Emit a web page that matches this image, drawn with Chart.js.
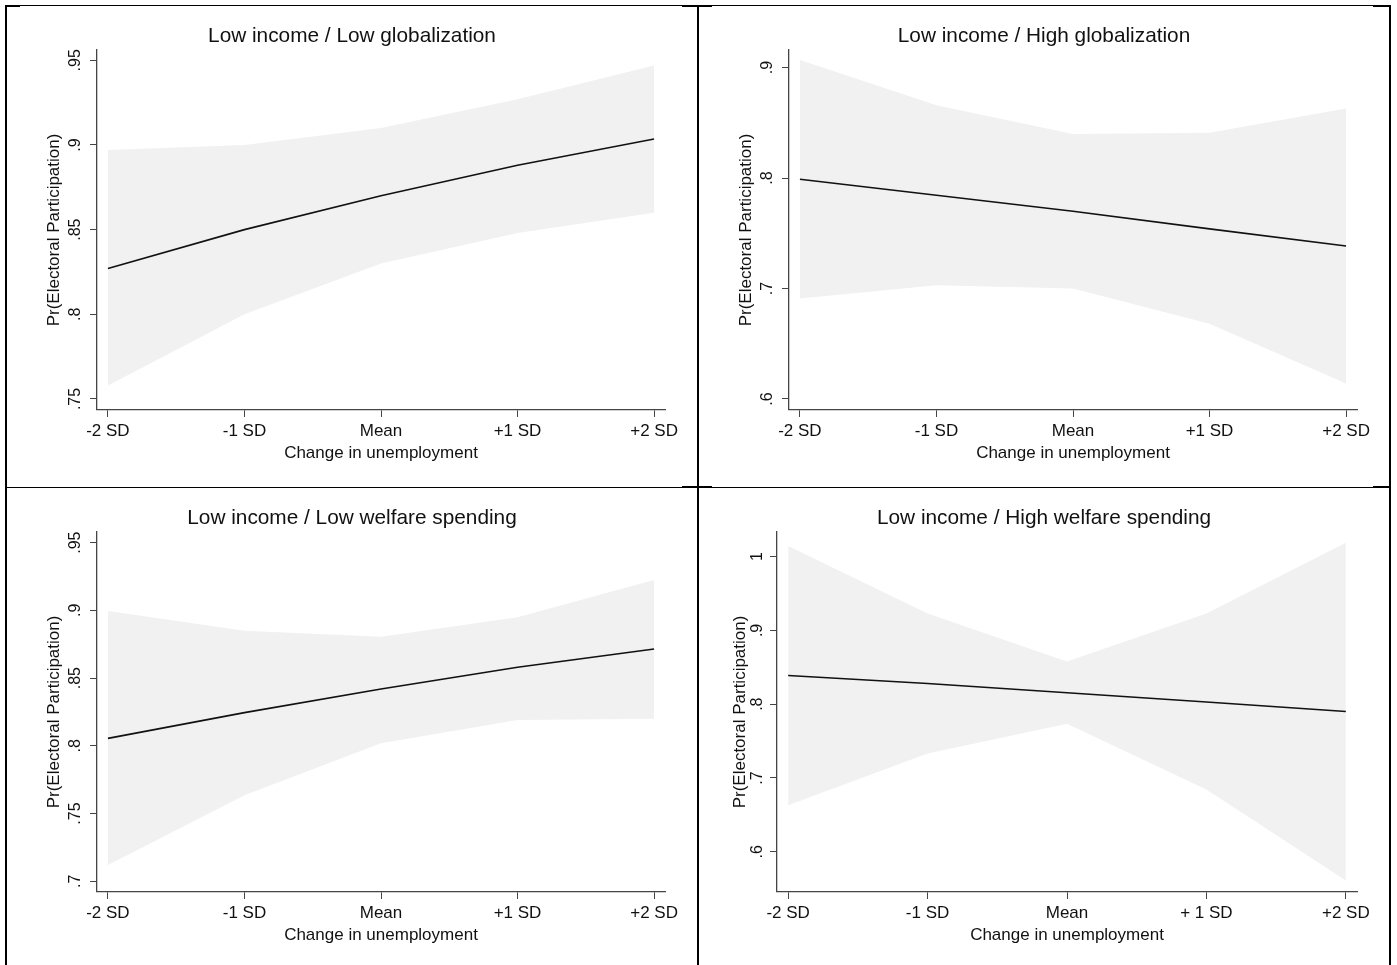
<!DOCTYPE html>
<html>
<head>
<meta charset="utf-8">
<script src="https://cdn.jsdelivr.net/npm/chart.js@4.4.1/dist/chart.umd.min.js"></script>
<style>
  html, body { margin: 0; padding: 0; background: #fff; }
  body { width: 1397px; height: 965px; overflow: hidden; position: relative; }
  canvas { position: absolute; }
  .rule { position: absolute; background: #000; }
</style>
</head>
<body>
<canvas id="p1" width="690" height="481" style="left:7px;top:6px"></canvas>
<canvas id="p2" width="690" height="481" style="left:699px;top:6px"></canvas>
<canvas id="p3" width="690" height="481" style="left:7px;top:488px"></canvas>
<canvas id="p4" width="690" height="481" style="left:699px;top:488px"></canvas>

<!-- table frame around the four panels -->
<div class="rule" style="left:5px;top:5px;width:2px;height:960px"></div>
<div class="rule" style="left:697px;top:5px;width:2px;height:960px"></div>
<div class="rule" style="left:1389px;top:5px;width:2px;height:960px"></div>
<div class="rule" style="left:5px;top:5px;width:1386px;height:1px"></div>
<div class="rule" style="left:5px;top:5px;width:15px;height:2px"></div>
<div class="rule" style="left:682px;top:5px;width:30px;height:2px"></div>
<div class="rule" style="left:1373px;top:5px;width:18px;height:2px"></div>
<div class="rule" style="left:5px;top:487px;width:1386px;height:1px"></div>
<div class="rule" style="left:682px;top:486px;width:30px;height:2px"></div>
<div class="rule" style="left:1373px;top:486px;width:18px;height:2px"></div>

<script>
// Horizontal axis: change in unemployment, in standard deviations
const xPositions = [-2, -1, 0, 1, 2];
const xLabels = ['-2 SD', '-1 SD', 'Mean', '+1 SD', '+2 SD'];
const xLabelsSpaced = ['-2 SD', '-1 SD', 'Mean', '+ 1 SD', '+2 SD'];

// Low income / Low globalization
const lowGlobEstimate = [0.827, 0.850, 0.870, 0.888, 0.9035];
const lowGlobUpper    = [0.897, 0.900, 0.910, 0.927, 0.947];
const lowGlobLower    = [0.758, 0.800, 0.830, 0.848, 0.860];
const lowGlobTicks    = [0.75, 0.80, 0.85, 0.90, 0.95];
const lowGlobTickText = ['.75', '.8', '.85', '.9', '.95'];

// Low income / High globalization
const highGlobEstimate = [0.799, 0.7845, 0.770, 0.754, 0.7385];
const highGlobUpper    = [0.907, 0.866, 0.840, 0.841, 0.863];
const highGlobLower    = [0.691, 0.703, 0.700, 0.668, 0.614];
const highGlobTicks    = [0.6, 0.7, 0.8, 0.9];
const highGlobTickText = ['.6', '.7', '.8', '.9'];

// Low income / Low welfare spending
const lowWelfEstimate = [0.8055, 0.8245, 0.842, 0.858, 0.8715];
const lowWelfUpper    = [0.8995, 0.885, 0.8805, 0.895, 0.9225];
const lowWelfLower    = [0.712, 0.7635, 0.802, 0.819, 0.820];
const lowWelfTicks    = [0.70, 0.75, 0.80, 0.85, 0.90, 0.95];
const lowWelfTickText = ['.7', '.75', '.8', '.85', '.9', '.95'];

// Low income / High welfare spending
const highWelfEstimate = [0.839, 0.828, 0.8155, 0.803, 0.790];
const highWelfUpper    = [1.0145, 0.923, 0.858, 0.923, 1.019];
const highWelfLower    = [0.663, 0.733, 0.7735, 0.6845, 0.561];
const highWelfTicks    = [0.6, 0.7, 0.8, 0.9, 1.0];
const highWelfTickText = ['.6', '.7', '.8', '.9', '1'];

const FONT = '"Liberation Sans", Arial, Helvetica, sans-serif';
const TEXT = '#111111';
const AXIS = '#454545';
const BAND = '#f1f1f1';
const LINE = '#111111';
const SIDE = 32;   // equal side padding keeps each title centred in its panel

const points = ys => ys.map((y, i) => ({ x: xPositions[i], y }));

// Stata-style y tick labels, turned to read upward and centred on each tick
const yLabelPlugin = {
  id: 'yLabels',
  afterDraw(chart, args, opts) {
    const s = chart.scales.y;
    const ctx = chart.ctx;
    ctx.save();
    ctx.fillStyle = TEXT;
    ctx.font = `${opts.size}px ${FONT}`;
    ctx.textAlign = 'center';
    ctx.textBaseline = 'alphabetic';
    s.ticks.forEach((t, i) => {
      ctx.save();
      ctx.translate(s.right - opts.offset, s.getPixelForValue(t.value));
      ctx.rotate(-Math.PI / 2);
      ctx.fillText(opts.labels[i], 0, 0);
      ctx.restore();
    });
    ctx.restore();
  }
};

const panels = [
  { id: 'p1', title: 'Low income / Low globalization', est: lowGlobEstimate, hi: lowGlobUpper, lo: lowGlobLower,
    yTicks: lowGlobTicks, yText: lowGlobTickText, xText: xLabels, yMin: 0.7435, yMax: 0.9561,
    plotLeft: 90, yTitleX: 47, labelGap: 17.5 },
  { id: 'p2', title: 'Low income / High globalization', est: highGlobEstimate, hi: highGlobUpper, lo: highGlobLower,
    yTicks: highGlobTicks, yText: highGlobTickText, xText: xLabels, yMin: 0.5900, yMax: 0.9160,
    plotLeft: 90, yTitleX: 47.5, labelGap: 17.5 },
  { id: 'p3', title: 'Low income / Low welfare spending', est: lowWelfEstimate, hi: lowWelfUpper, lo: lowWelfLower,
    yTicks: lowWelfTicks, yText: lowWelfTickText, xText: xLabels, yMin: 0.6921, yMax: 0.9579,
    plotLeft: 90, yTitleX: 47, labelGap: 17.5 },
  { id: 'p4', title: 'Low income / High welfare spending', est: highWelfEstimate, hi: highWelfUpper, lo: highWelfLower,
    yTicks: highWelfTicks, yText: highWelfTickText, xText: xLabelsSpaced, yMin: 0.5454, yMax: 1.0335,
    plotLeft: 78, yTitleX: 41, labelGap: 15 }
];

panels.forEach(p => {
  new Chart(document.getElementById(p.id), {
    type: 'line',
    data: {
      datasets: [
        { data: points(p.est), fill: false, borderColor: LINE, borderWidth: 1.6, pointRadius: 0, tension: 0, order: 0 },
        { data: points(p.hi), fill: '+1', backgroundColor: BAND, borderWidth: 0, pointRadius: 0, order: 1 },
        { data: points(p.lo), fill: false, borderWidth: 0, pointRadius: 0, order: 2 }
      ]
    },
    options: {
      responsive: false,
      animation: false,
      events: [],
      layout: { padding: { left: SIDE, top: 0, right: SIDE, bottom: 0 } },
      plugins: {
        legend: { display: false },
        tooltip: { enabled: false },
        title: {
          display: true, text: p.title, color: TEXT,
          font: { family: FONT, size: 20.8, weight: 'normal' },
          padding: { top: 17.6, bottom: 1.4 }
        },
        yLabels: { labels: p.yText, offset: p.labelGap, size: 16 }
      },
      scales: {
        x: {
          type: 'linear', min: -2.08, max: 2.08,
          afterBuildTicks: s => { s.ticks = xPositions.map(v => ({ value: v })); },
          afterFit: s => { s.height = 77; },
          ticks: {
            callback: (v, i) => p.xText[i], color: TEXT, autoSkip: false, maxRotation: 0,
            font: { family: FONT, size: 17 }, padding: 4
          },
          grid: { drawOnChartArea: false, drawTicks: true, tickLength: 7, color: AXIS, lineWidth: 1 },
          border: { display: true, color: AXIS, width: 1.3 },
          title: {
            display: true, text: 'Change in unemployment', color: TEXT,
            font: { family: FONT, size: 17 }, padding: { top: 0, bottom: 23.4 }
          }
        },
        y: {
          type: 'linear', min: p.yMin, max: p.yMax,
          afterBuildTicks: s => { s.ticks = p.yTicks.map(v => ({ value: v })); },
          afterFit: s => { s.width = p.plotLeft - SIDE; },
          ticks: { display: false },
          grid: { drawOnChartArea: false, drawTicks: true, tickLength: 7, color: AXIS, lineWidth: 1 },
          border: { display: true, color: AXIS, width: 1.3 },
          title: {
            display: true, text: 'Pr(Electoral Participation)', color: TEXT,
            font: { family: FONT, size: 17 }, padding: { top: p.yTitleX - SIDE - 10.2, bottom: 0 }
          }
        }
      }
    },
    plugins: [yLabelPlugin]
  });
});
</script>
</body>
</html>
